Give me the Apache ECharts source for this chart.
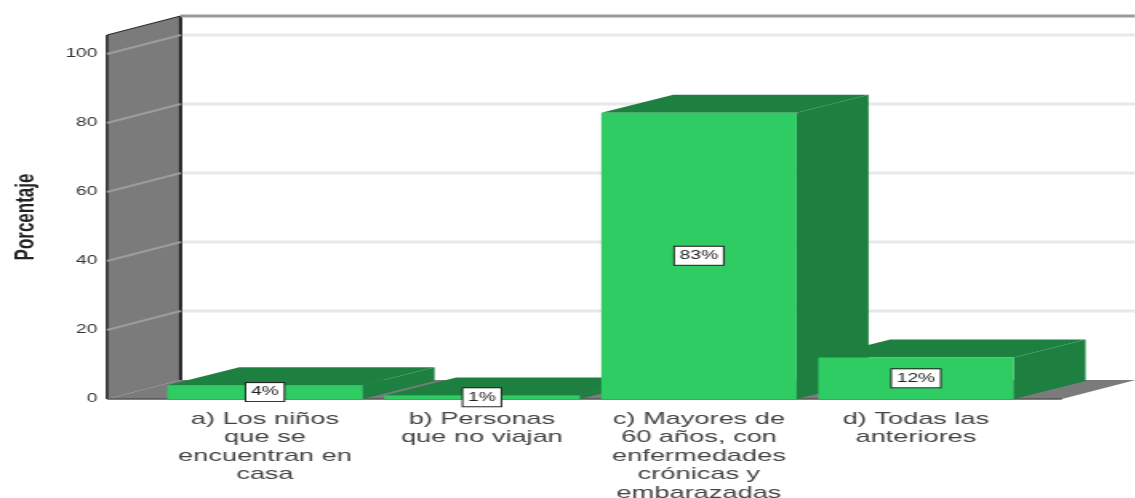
<!DOCTYPE html>
<html>
<head>
<meta charset="utf-8">
<style>
html,body{margin:0;padding:0;background:#fff;overflow:hidden;width:1135px;height:498px}
#main{width:710px;height:498px;transform:scaleX(1.6);transform-origin:0 0}
</style>
<script src="https://cdn.jsdelivr.net/npm/echarts@6/dist/echarts.min.js"></script>
</head>
<body>
<div id="main"></div>
<script>
var categories = ['a) Los niños\nque se\nencuentran en\ncasa', 'b) Personas\nque no viajan', 'c) Mayores de\n60 años, con\nenfermedades\ncrónicas y\nembarazadas', 'd) Todas las\nanteriores'];
var percentages = [4, 1, 83, 12];
var percentLabels = ['4%', '1%', '83%', '12%'];
var yTicks = [0, 20, 40, 60, 80, 100];
var yMax = 105.5;
var yTitle = 'Porcentaje';

var wallDx = 46, wallDy = -19, barDx = 45, barDy = -18;
var wallLeft = -30.9, wallRight = 565.9;
var FRONT = '#2ecc62', SIDE = '#1d8040', WALL = '#7b7b7b', EDGE = '#222222';

function poly(pts, fill, z) {
  return {type: 'polygon', z2: z || 0, shape: {points: pts}, style: {fill: fill}};
}
function seg(x1, y1, x2, y2, color, w, z) {
  return {type: 'line', z2: z || 0, shape: {x1: x1, y1: y1, x2: x2, y2: y2}, style: {stroke: color, lineWidth: w}};
}

var chart = echarts.init(document.getElementById('main'));
chart.setOption({
  animation: false,
  backgroundColor: '#fff',
  grid: {left: 97.8, top: 35, width: 542.5, bottom: 99, containLabel: false, outerBoundsMode: 'none'},
  xAxis: {
    type: 'category',
    data: categories,
    axisLine: {show: false},
    axisTick: {show: false},
    axisLabel: {interval: 0, margin: 11, fontFamily: 'Liberation Sans', fontSize: 17, lineHeight: 18.5, color: '#444', align: 'center', verticalAlign: 'top'}
  },
  yAxis: {
    type: 'value',
    min: 0,
    max: yMax,
    interval: 20,
    offset: 30.9,
    name: yTitle,
    nameLocation: 'middle',
    nameGap: 42,
    nameRotate: 90,
    nameTextStyle: {fontFamily: 'Liberation Sans', fontSize: 17, fontWeight: 'bold', color: '#222'},
    axisLine: {show: false},
    axisTick: {show: false},
    splitLine: {show: false},
    axisLabel: {margin: 6, showMaxLabel: false, fontFamily: 'Liberation Sans', fontSize: 12, color: '#333'}
  },
  series: [
    {
      type: 'custom', z: 1, silent: true,
      data: [[0, 0]],
      encode: {x: 0, y: 1},
      renderItem: function (params, api) {
        var r = params.coordSys;
        var y0 = api.coord([0, 0])[1], yT = api.coord([0, yMax])[1];
        var l = r.x + wallLeft, rr = r.x + wallRight;
        var backL = l + wallDx, backR = rr + wallDx;
        return {type: 'group', children: [
          poly([[l, y0], [rr, y0], [backR, y0 + wallDy], [backL, y0 + wallDy]], WALL),
          poly([[l, y0], [backL, y0 + wallDy], [backL, yT + wallDy], [l, yT]], WALL),
          seg(l, y0, l, yT, EDGE, 1.5, 3),
          seg(l, yT, backL, yT + wallDy, EDGE, 1, 3),
          seg(backL, y0 + wallDy, backL, yT + wallDy, EDGE, 2, 3),
          seg(backL, yT + wallDy, backR, yT + wallDy, '#9a9a9a', 3, 3),
          seg(l, y0, rr, y0, '#555555', 1.5, 3)
        ]};
      }
    },
    {
      type: 'custom', z: 2, silent: true,
      data: yTicks.slice(1).map(function (t) { return [0, t]; }),
      encode: {x: 0, y: 1},
      renderItem: function (params, api) {
        var r = params.coordSys;
        var y = api.coord([0, api.value(1)])[1];
        var l = r.x + wallLeft, backL = l + wallDx, backR = r.x + wallRight + wallDx;
        return {type: 'group', children: [
          seg(l, y, backL, y + wallDy, '#9c9c9c', 2),
          seg(backL + 1, y + wallDy, backR, y + wallDy, '#e8e8e8', 3)
        ]};
      }
    },
    {
      type: 'custom', z: 3, silent: true,
      data: percentages.map(function (v, i) { return [i, v]; }),
      encode: {x: 0, y: 1},
      renderItem: function (params, api) {
        var i = api.value(0), v = api.value(1);
        var base = api.coord([i, 0]), top = api.coord([i, v]);
        var w = api.size([1, 0])[0] * 0.9;
        var l = base[0] - w / 2, r = base[0] + w / 2, y0 = base[1], y1 = top[1];
        return {type: 'group', children: [
          poly([[l, y1], [r, y1], [r + barDx, y1 + barDy], [l + barDx, y1 + barDy]], SIDE),
          poly([[r, y0], [r + barDx, y0 + barDy], [r + barDx, y1 + barDy], [r, y1]], SIDE),
          poly([[l, y0], [r, y0], [r, y1], [l, y1]], FRONT, 1)
        ]};
      }
    },
    {
      type: 'custom', z: 4, silent: true,
      data: percentages.map(function (v, i) { return [i, v]; }),
      encode: {x: 0, y: 1},
      renderItem: function (params, api) {
        var i = api.value(0), v = api.value(1);
        var p = api.coord([i, v / 2]);
        return {
          type: 'text', x: p[0], y: p[1],
          style: {
            text: percentLabels[i], align: 'center', verticalAlign: 'middle',
            fontFamily: 'Liberation Sans', fontSize: 12, fill: '#222',
            backgroundColor: '#fff', borderColor: '#222', borderWidth: 1,
            padding: [3, 3, 3, 3]
          }
        };
      }
    }
  ]
});
</script>
</body>
</html>
